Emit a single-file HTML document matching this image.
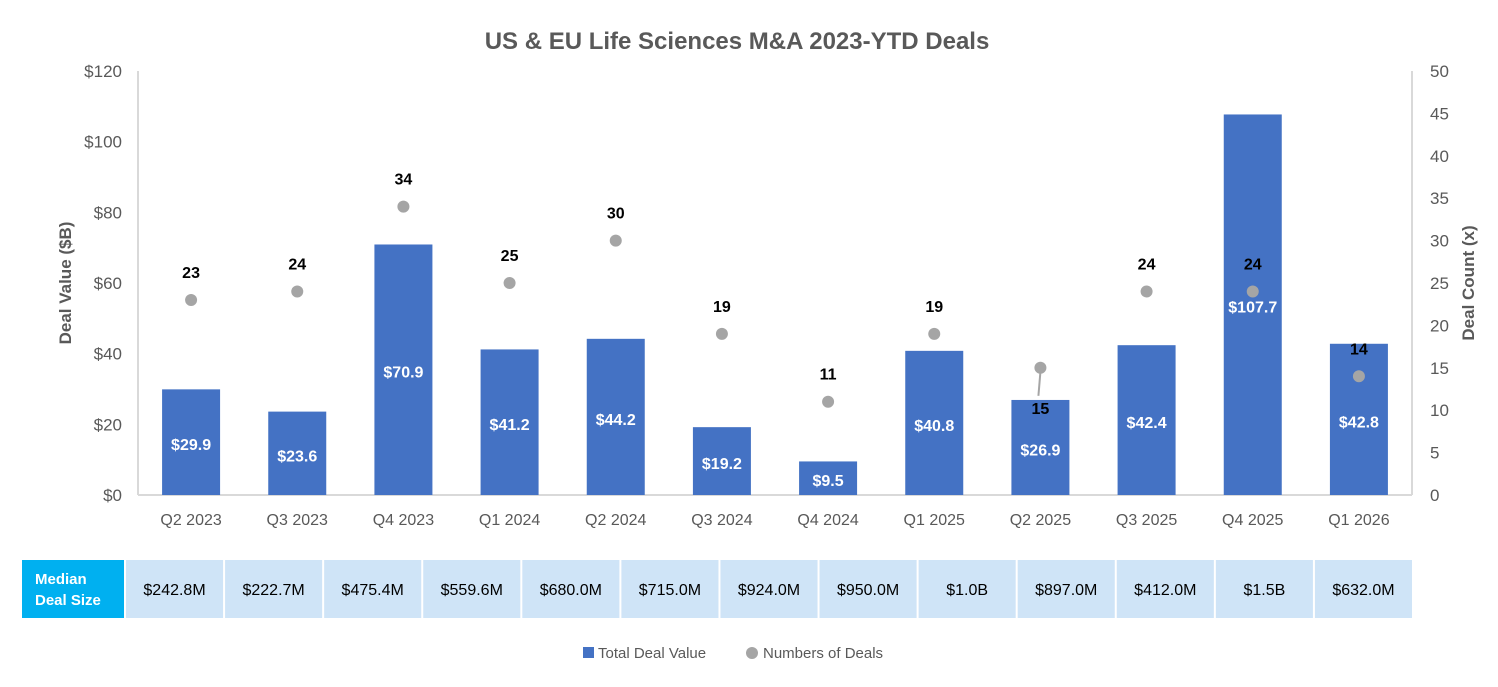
<!DOCTYPE html>
<html><head><meta charset="utf-8"><style>
body{margin:0;background:#fff;}
svg text{font-family:"Liberation Sans",sans-serif;}
</style></head><body>
<svg width="1498" height="682" viewBox="0 0 1498 682" xmlns="http://www.w3.org/2000/svg">
<text x="737" y="49" text-anchor="middle" font-size="24" font-weight="bold" fill="#595959">US &amp; EU Life Sciences M&amp;A 2023-YTD Deals</text>
<g id="axes"></g>
<g id="bars"></g>
<g id="dots"></g>
<g id="table"></g>
<g>
<rect x="583" y="647" width="11" height="11" fill="#4472c4"/>
<text x="598" y="658" font-size="15" fill="#595959">Total Deal Value</text>
<circle cx="752" cy="653" r="6" fill="#a5a5a5"/>
<text x="763" y="658" font-size="15" fill="#595959">Numbers of Deals</text>
</g>
</svg>
<script>
const categories=["Q2 2023","Q3 2023","Q4 2023","Q1 2024","Q2 2024","Q3 2024","Q4 2024","Q1 2025","Q2 2025","Q3 2025","Q4 2025","Q1 2026"];
const dealValues=[29.9,23.6,70.9,41.2,44.2,19.2,9.5,40.8,26.9,42.4,107.7,42.8];
const dealCounts=[23,24,34,25,30,19,11,19,15,24,24,14];
const medianSizes=["$242.8M","$222.7M","$475.4M","$559.6M","$680.0M","$715.0M","$924.0M","$950.0M","$1.0B","$897.0M","$412.0M","$1.5B","$632.0M"];
const leftTicks=[0,20,40,60,80,100,120];
const rightTicks=[0,5,10,15,20,25,30,35,40,45,50];
const NS="http://www.w3.org/2000/svg";
const X0=138,X1=1412,Y0=495,YT=71;
const bw=(X1-X0)/categories.length;
const xC=i=>X0+bw*(i+0.5);
const yL=v=>Y0-(v/120)*(Y0-YT);
const yR=v=>Y0-(v/50)*(Y0-YT);
function mk(tag,attrs,parent,txt){const e=document.createElementNS(NS,tag);for(const k in attrs)e.setAttribute(k,attrs[k]);if(txt!==undefined)e.textContent=txt;parent.appendChild(e);return e;}
const ax=document.getElementById('axes');
let e=mk('line',{x1:X0,y1:YT,x2:X0,y2:Y0,stroke:'#d9d9d9','stroke-width':2},ax);


e=mk('line',{x1:X1,y1:YT,x2:X1,y2:Y0,stroke:'#d9d9d9','stroke-width':2},ax);


e=mk('line',{x1:X0,y1:Y0,x2:X1,y2:Y0,stroke:'#d9d9d9','stroke-width':2},ax);


leftTicks.forEach(t=>{const el=mk('text',{x:122,y:yL(t)+6,'text-anchor':'end','font-size':17,fill:'#595959'},ax,'$'+t);

});
rightTicks.forEach(t=>{const el=mk('text',{x:1430,y:yR(t)+6,'font-size':17,fill:'#595959'},ax,String(t));

});
e=mk('text',{x:0,y:0,transform:'translate(71,283) rotate(-90)','text-anchor':'middle','font-size':17,'font-weight':'bold',fill:'#595959'},ax,'Deal Value ($B)');


e=mk('text',{x:0,y:0,transform:'translate(1474,283) rotate(-90)','text-anchor':'middle','font-size':17,'font-weight':'bold',fill:'#595959'},ax,'Deal Count (x)');


categories.forEach((c,i)=>{const el=mk('text',{x:xC(i),y:525,'text-anchor':'middle','font-size':16,fill:'#595959'},ax,c);

});
const bars=document.getElementById('bars');
dealValues.forEach((v,i)=>{const top=yL(v);
const r=mk('rect',{x:xC(i)-29,y:top,width:58,height:Y0-top,fill:'#4472c4'},bars);


const t=mk('text',{x:xC(i),y:(top+Y0)/2+8,'text-anchor':'middle','font-size':16,'font-weight':'bold',fill:'#fff'},bars,'$'+v.toFixed(1));

});
const dots=document.getElementById('dots');
dealCounts.forEach((v,i)=>{const cy=yR(v);
const c=mk('circle',{cx:xC(i),cy:cy,r:6,fill:'#a5a5a5'},dots);


let ly=cy-22;
if(categories[i]==="Q2 2025"){ly=cy+46;const l=mk('line',{x1:xC(i),y1:cy+4,x2:xC(i)-2,y2:cy+28,stroke:'#a5a5a5','stroke-width':2},dots);

}
const t=mk('text',{x:xC(i),y:ly,'text-anchor':'middle','font-size':16,'font-weight':'bold',fill:'#000'},dots,String(v));

});
const tb=document.getElementById('table');
e=mk('rect',{x:22,y:560,width:102,height:58,fill:'#00b0f0'},tb);


e=mk('text',{x:35,y:584,'font-size':15,'font-weight':'bold',fill:'#fff'},tb,'Median');


e=mk('text',{x:35,y:605,'font-size':15,'font-weight':'bold',fill:'#fff'},tb,'Deal Size');


const cw=(1413-125)/medianSizes.length;
medianSizes.forEach((s,i)=>{const x=125+cw*i;
const r=mk('rect',{x:x+1,y:560,width:cw-2,height:58,fill:'#cfe4f7'},tb);


const t=mk('text',{x:x+cw/2,y:595,'text-anchor':'middle','font-size':16,fill:'#000'},tb,s);

});
</script>
</body></html>
